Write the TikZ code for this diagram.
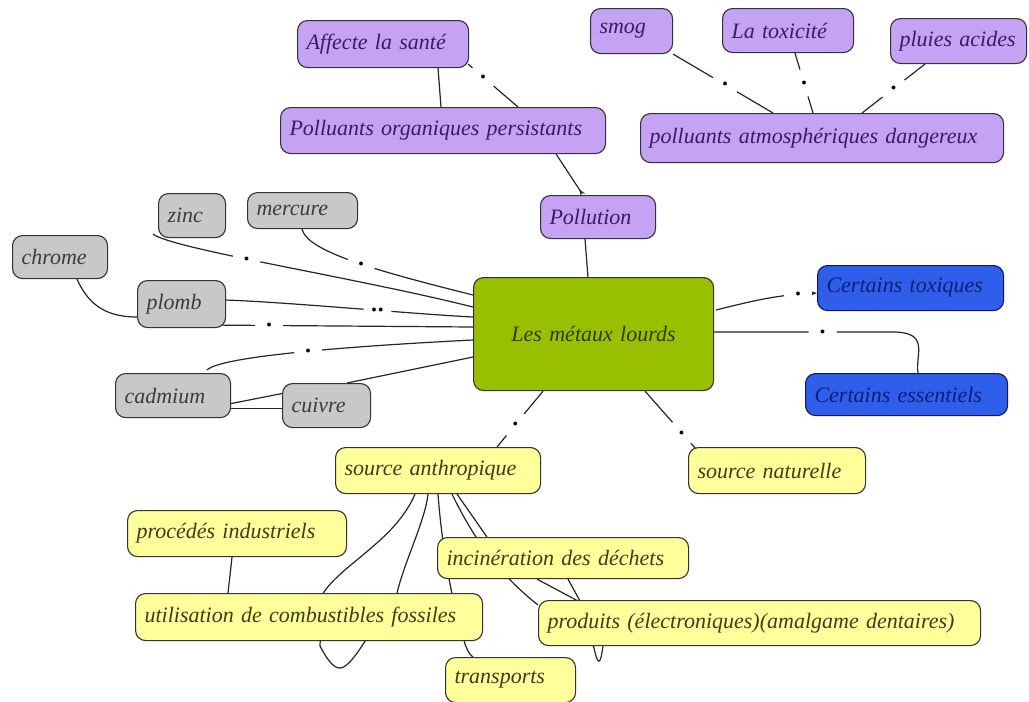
\documentclass[tikz,border=0pt]{standalone}
\usepackage{fontspec}
\setmainfont{Liberation Serif}[ItalicFont={Liberation Serif Italic}]
\usepackage{tikz}
\usetikzlibrary{positioning, calc, arrows.meta}
\usepackage{xcolor}
\definecolor{mauve}{HTML}{C6A2F4}
\definecolor{mauvetxt}{HTML}{3A1C63}
\definecolor{gris}{HTML}{C8C8C8}
\definecolor{gristxt}{HTML}{3C3C3C}
\definecolor{vert}{HTML}{99C000}
\definecolor{verttxt}{HTML}{2C3A05}
\definecolor{bleu}{HTML}{2F5EEB}
\definecolor{bleutxt}{HTML}{0C1E78}
\definecolor{jaune}{HTML}{FFFF9C}
\definecolor{jaunetxt}{HTML}{3E3E10}
\pgfdeclarelayer{bg}
\pgfsetlayers{bg,main}

\begin{document}
\begin{tikzpicture}[x=1pt, y=-1pt,
  font=\fontsize{22}{26}\selectfont\itshape,
  concept/.style={draw=black!80, line width=1.1pt, rounded corners=10pt,
    anchor=north west, inner xsep=9pt, inner ysep=0pt, align=left},
  pollu/.style={concept, fill=mauve, text=mauvetxt},
  metal/.style={concept, fill=gris, text=gristxt},
  noyau/.style={concept, fill=vert, text=verttxt, align=center},
  effet/.style={concept, fill=bleu, text=bleutxt, draw=bleutxt!80!black},
  source/.style={concept, fill=jaune, text=jaunetxt},
  brk/.style={circle, fill=white, inner sep=0pt, minimum size=28pt, font=\normalsize},
  >={Stealth[length=7pt, width=5pt]},
]
  \useasboundingbox (0,0) rectangle (1029,702);

  % pollution
  \node[pollu, text width=153pt, minimum height=47pt] (aff) at (297,20) {Affecte la santé};
  \node[pollu, text width=307pt, minimum height=46pt] (pop) at (280,107) {Polluants organiques persistants};
  \node[pollu, text width=64pt, minimum height=45pt] (smog) at (590,8) {smog};
  \node[pollu, text width=113pt, minimum height=44pt] (toxi) at (722,8) {La toxicité};
  \node[pollu, text width=118pt, minimum height=45pt] (pluies) at (890,18) {pluies acides};
  \node[pollu, text width=345pt, minimum height=49pt] (pad) at (640,113) {polluants atmosphériques dangereux};
  \node[pollu, text width=97pt, minimum height=43pt] (pollution) at (540,195) {Pollution};

  % centre
  \node[noyau, text width=222pt, minimum height=113pt] (metaux) at (473,277) {Les métaux lourds};

  % metaux
  \node[metal, text width=49pt, minimum height=44pt] (zinc) at (158,193) {zinc};
  \node[metal, text width=92pt, minimum height=36pt] (mercure) at (247,192) {mercure};
  \node[metal, text width=77pt, minimum height=43pt] (chrome) at (12,235) {chrome};
  \node[metal, text width=70pt, minimum height=47pt] (plomb) at (137,280) {plomb};
  \node[metal, text width=97pt, minimum height=44pt] (cadmium) at (115,373) {cadmium};
  \node[metal, text width=70pt, minimum height=44pt] (cuivre) at (282,383) {cuivre};

  % toxiques / essentiels
  \node[effet, text width=168pt, minimum height=45pt] (toxiques) at (817,265) {Certains toxiques};
  \node[effet, text width=184pt, minimum height=42pt] (essentiels) at (805,373) {Certains essentiels};

  % sources
  \node[source, text width=187pt, minimum height=46pt] (anthro) at (335,447) {source anthropique};
  \node[source, text width=159pt, minimum height=46pt] (naturelle) at (688,447) {source naturelle};
  \node[source, text width=201pt, minimum height=46pt] (procedes) at (127,510) {procédés industriels};
  \node[source, text width=233pt, minimum height=41pt] (incin) at (437,537) {incinération des déchets};
  \node[source, text width=329pt, minimum height=47pt] (util) at (135,593) {utilisation de combustibles fossiles};
  \node[source, text width=424pt, minimum height=45pt] (produits) at (538,600) {produits (électroniques)(amalgame dentaires)};
  \node[source, text width=112pt, minimum height=45pt] (transports) at (445,657) {transports};

  \begin{pgfonlayer}{bg}
  \fill[white] (0,0) rectangle (1029,702);
  \begin{scope}[draw=black!85, line width=1.2pt]
    \draw ($(aff.south west)+(141,0)$) -- ($(pop.north west)+(161,0)$);
    \draw ($(aff.south east)+(-1,-4)$) -- ($(pop.north west)+(238,0)$) node[brk, pos=.3] {$\bullet$};
    \draw[{Stealth[reversed, length=7pt, width=5pt]}-] ($(pollution.north west)+(43,0)$) -- ($(pop.south east)+(-50,0)$);
    \draw ($(pollution.south west)+(45,0)$) -- ($(metaux.north west)+(115,0)$);
    \draw (smog.south east) -- ($(pad.north west)+(133,0)$) node[brk, pos=.52] {$\bullet$};
    \draw ($(toxi.south west)+(73,0)$) -- ($(pad.north west)+(173,0)$) node[brk, pos=.5] {$\bullet$};
    \draw ($(pluies.south west)+(35,0)$) -- ($(pad.north west)+(222,0)$) node[brk, pos=.5] {$\bullet$};

    \draw ($(mercure.south west)+(55,0)$) .. controls +(5,22) and +(-100,-25) .. ($(metaux.north west)+(0,18)$) node[brk, pos=.55] {$\bullet$};
    \draw ($(zinc.south west)+(-5,-4)$) .. controls +(20,15) and +(-120,-30) .. ($(metaux.north west)+(0,30)$) node[brk, pos=.42] {$\bullet$};
    \draw ($(plomb.east)+(0,-4)$) .. controls +(60,2) and +(-60,-3) .. ($(metaux.north west)+(0,40)$) node[brk, pos=.6] {$\bullet\,\bullet$};
    \draw ($(plomb.south east)+(-8,-3)$) -- ($(metaux.north west)+(0,50)$) node[brk, pos=.2] {$\bullet$};
    \draw ($(cadmium.north west)+(92,-3)$) .. controls +(15,-15) and +(-100,5) .. ($(metaux.north west)+(0,63)$) node[brk, pos=.5] {$\bullet$};
    \draw ($(cuivre.north west)+(65,0)$) -- ($(metaux.north west)+(0,80)$);
    \draw ($(chrome.south west)+(65,0)$) .. controls +(10,22) and +(-35,0) .. ($(plomb.north west)+(0,37)$);
    \draw ($(cadmium.east)+(0,8)$) -- ($(cuivre.west)+(0,-12)$);
    \draw ($(cadmium.east)+(0,13)$) -- ($(cuivre.west)+(0,3)$);

    \draw[->] ($(metaux.north east)+(2,33)$) .. controls +(40,-10) and +(-40,2) .. ($(toxiques.west)+(0,5)$) node[brk, pos=.83] {$\bullet$};
    \draw ($(metaux.north east)+(0,55)$) -- ($(essentiels.north west)+(90,-41)$) node[brk, pos=.6] {$\bullet$}
      .. controls +(35,1) and +(-3,-18) .. ($(essentiels.north west)+(113,0)$);
    \draw ($(metaux.south west)+(70,0)$) -- ($(anthro.north west)+(162,0)$) node[brk, pos=.6] {$\bullet$};
    \draw ($(metaux.south west)+(172,0)$) -- ($(naturelle.north west)+(8,2)$) node[brk, pos=.72] {$\bullet$};

    \draw ($(procedes.south west)+(105,0)$) -- ($(util.north west)+(93,0)$);
    \draw ($(anthro.south west)+(80,0)$) .. controls +(-20,47) and +(18,-30) .. ($(util.north west)+(187,2)$)
      -- ($(util.south west)+(185,5)$) .. controls +(8,15) and +(-6,0) .. ($(util.south west)+(205,27)$)
      .. controls +(8,0) and +(-5,8) .. ($(util.south west)+(230,0)$)
      -- ($(util.north west)+(262,0)$) .. controls +(8,-33) and +(-3,27) .. ($(anthro.south west)+(93,0)$);
    \draw ($(anthro.south west)+(103,0)$) .. controls +(5,67) and +(-8,-25) .. ($(util.south east)+(-19,0)$)
      .. controls +(3,10) and +(-3,-2) .. ($(transports.north west)+(28,0)$);
    \draw ($(anthro.south west)+(122,0)$) -- ($(incin.north west)+(50,0)$);
    \draw ($(anthro.south west)+(117,0)$) .. controls +(23,47) and +(-38,-30) .. ($(produits.north west)+(0,5)$);
    \draw ($(incin.south west)+(100,0)$) -- ($(produits.north west)+(40,1)$)
      -- ($(produits.south west)+(56,2)$) .. controls +(2,8) and +(-2,0) .. ($(produits.south west)+(61,15)$)
      .. controls +(2,0) and +(-1,6) .. ($(produits.south west)+(65,0)$)
      -- ($(produits.north west)+(42,1)$) -- ($(incin.south west)+(131,0)$);
  \end{scope}
  \end{pgfonlayer}
\end{tikzpicture}
\end{document}
